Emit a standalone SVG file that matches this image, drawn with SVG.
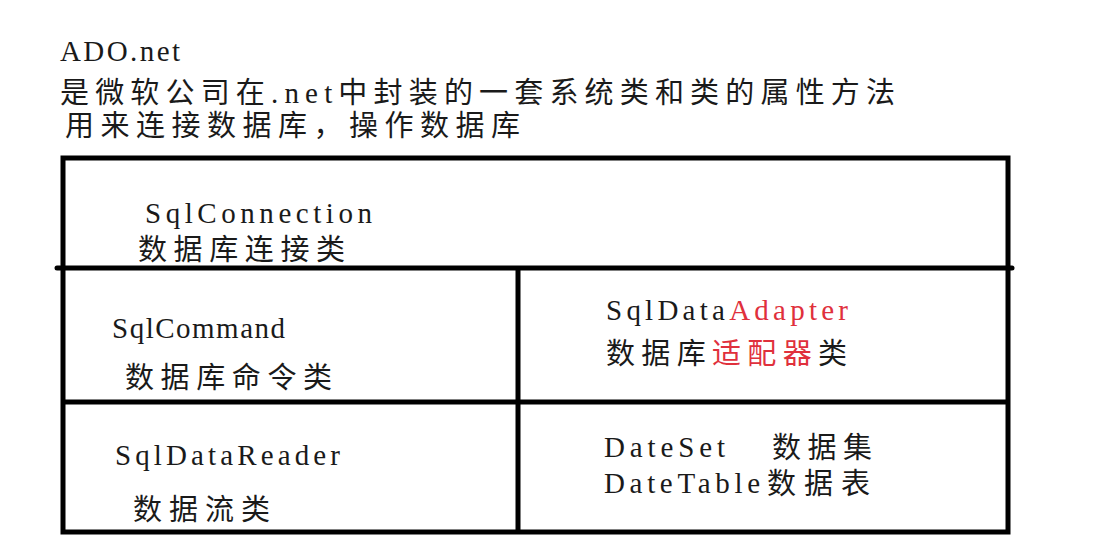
<svg xmlns="http://www.w3.org/2000/svg" width="1104" height="555" viewBox="0 0 1104 555">
<style>
.t{font-family:"Liberation Serif","Noto Sans CJK SC",serif;font-size:29px;fill:#1a1a1a}
.r{fill:#e0303c}
.ln{stroke:#000;stroke-width:5;fill:none}
</style>
<rect width="1104" height="555" fill="#fff"/>
<g id="header">
<text class="t" x="60" y="61" textLength="120" lengthAdjust="spacing">ADO.net</text>
<text class="t" x="60" y="103" textLength="835" lengthAdjust="spacing">是微软公司在.net中封装的一套系统类和类的属性方法</text>
<text class="t" x="65" y="136" textLength="455" lengthAdjust="spacing">用来连接数据库，操作数据库</text>
</g>
<g id="connectors">
<rect class="ln" x="63" y="158" width="945" height="374"/>
<line class="ln" x1="57" y1="268" x2="1012" y2="268" stroke-linecap="round"/>
<line class="ln" x1="63" y1="402" x2="1008" y2="402"/>
<line class="ln" x1="518" y1="268" x2="518" y2="532"/>
</g>
<g id="sqlconnection">
<text class="t" x="145" y="223" textLength="227" lengthAdjust="spacing">SqlConnection</text>
<text class="t" x="138" y="260" textLength="207" lengthAdjust="spacing">数据库连接类</text>
</g>
<g id="sqlcommand">
<text class="t" x="112" y="338" textLength="173" lengthAdjust="spacing">SqlCommand</text>
<text class="t" x="125" y="388" textLength="207" lengthAdjust="spacing">数据库命令类</text>
</g>
<g id="sqldataadapter">
<text class="t" x="606" y="320" textLength="242" lengthAdjust="spacing">SqlData<tspan class="r">Adapter</tspan></text>
<text class="t" x="606" y="364" textLength="241" lengthAdjust="spacing">数据库<tspan class="r">适配器</tspan>类</text>
</g>
<g id="sqldatareader">
<text class="t" x="115" y="465" textLength="225" lengthAdjust="spacing">SqlDataReader</text>
<text class="t" x="133" y="520" textLength="137" lengthAdjust="spacing">数据流类</text>
</g>
<g id="dataset">
<text class="t" x="604" y="457" textLength="121" lengthAdjust="spacing">DateSet</text>
<text class="t" x="772" y="458" textLength="100" lengthAdjust="spacing">数据集</text>
<text class="t" x="604" y="493" textLength="156" lengthAdjust="spacing">DateTable</text>
<text class="t" x="767" y="494" textLength="103" lengthAdjust="spacing">数据表</text>
</g>
</svg>
